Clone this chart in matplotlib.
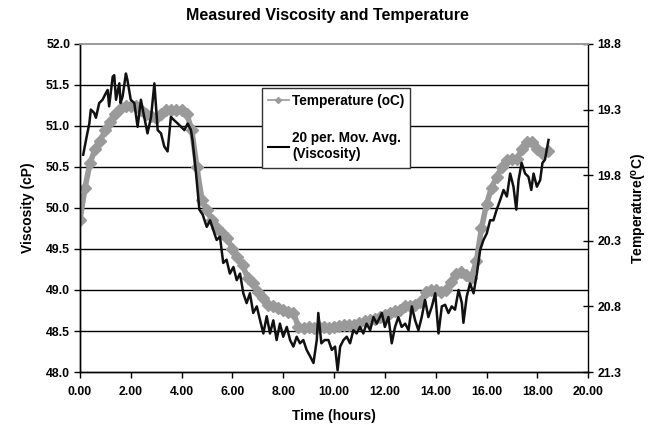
import numpy as np
import matplotlib
matplotlib.use("Agg")
import matplotlib.pyplot as plt
from matplotlib.lines import Line2D

plt.rcParams['font.family'] = ['Liberation Sans', 'DejaVu Sans']
plt.rcParams['font.weight'] = 'bold'
plt.rcParams['mathtext.default'] = 'regular'

# Temperature (oC), sampled every 0.2 h from 0.0 to 18.4 h
temp_c = [
    20.144, 19.894, 19.706, 19.600, 19.538, 19.456, 19.394, 19.331, 19.288, 19.269,
    19.269, 19.275, 19.300, 19.331, 19.350, 19.363, 19.331, 19.300, 19.300, 19.300,
    19.300, 19.331, 19.456, 19.738, 19.988, 20.069, 20.144, 20.206, 20.238, 20.281,
    20.363, 20.425, 20.488, 20.581, 20.625, 20.694, 20.738, 20.788, 20.800, 20.813,
    20.831, 20.844, 20.850, 20.956, 20.963, 20.956, 20.963, 20.956, 20.956, 20.963,
    20.956, 20.950, 20.944, 20.944, 20.938, 20.925, 20.913, 20.900, 20.894, 20.881,
    20.863, 20.850, 20.838, 20.825, 20.800, 20.800, 20.788, 20.769, 20.688, 20.675,
    20.675, 20.688, 20.675, 20.613, 20.550, 20.538, 20.563, 20.581, 20.456, 20.206,
    20.019, 19.894, 19.813, 19.738, 19.688, 19.675, 19.675, 19.600, 19.550, 19.550,
    19.600, 19.631, 19.613,
]
temp_t = np.round(np.arange(len(temp_c)) * 0.2, 1)

# 20 per. moving average of viscosity (cP)
visc_t = [
    0.13, 0.24, 0.37, 0.43, 0.56, 0.63, 0.76, 0.89, 1.02, 1.09,
    1.15, 1.29, 1.35, 1.42, 1.55, 1.60, 1.68, 1.81, 1.87, 2.00,
    2.14, 2.27, 2.40, 2.53, 2.66, 2.80, 2.93, 3.06, 3.19, 3.32,
    3.45, 3.58, 3.71, 3.85, 3.98, 4.11, 4.24, 4.37, 4.43, 4.57,
    4.70, 4.83, 4.99, 5.12, 5.25, 5.38, 5.51, 5.64, 5.77, 5.90,
    6.04, 6.17, 6.30, 6.43, 6.56, 6.69, 6.82, 6.96, 7.09, 7.22,
    7.35, 7.48, 7.61, 7.74, 7.87, 8.00, 8.14, 8.27, 8.40, 8.53,
    8.66, 8.79, 8.92, 9.06, 9.19, 9.32, 9.38, 9.50, 9.63, 9.78,
    9.91, 10.04, 10.14, 10.24, 10.37, 10.50, 10.63, 10.76, 10.89, 11.02,
    11.15, 11.28, 11.42, 11.55, 11.68, 11.88, 12.00, 12.14, 12.27, 12.40,
    12.53, 12.66, 12.80, 12.93, 13.06, 13.19, 13.32, 13.45, 13.58, 13.71,
    13.85, 13.98, 14.11, 14.24, 14.37, 14.50, 14.63, 14.76, 14.90, 15.03,
    15.09, 15.22, 15.35, 15.49, 15.62, 15.75, 15.88, 16.01, 16.14, 16.27,
    16.40, 16.54, 16.67, 16.80, 16.93, 17.06, 17.17, 17.26, 17.38, 17.52,
    17.65, 17.76, 17.85, 17.98, 18.11, 18.20, 18.30, 18.37, 18.44,
]
visc_cp = [
    50.65, 50.83, 51.03, 51.20, 51.16, 51.10, 51.28, 51.32, 51.40, 51.44,
    51.24, 51.60, 51.62, 51.32, 51.52, 51.28, 51.36, 51.64, 51.56, 51.32,
    51.28, 50.99, 51.32, 51.11, 50.91, 51.11, 51.52, 50.95, 50.91, 50.75,
    50.69, 51.11, 51.07, 51.03, 50.99, 50.95, 51.03, 50.95, 50.83, 50.42,
    49.98, 49.92, 49.77, 49.85, 49.73, 49.61, 49.65, 49.33, 49.37, 49.20,
    49.28, 49.12, 49.20, 48.96, 48.84, 48.96, 48.72, 48.80, 48.63, 48.47,
    48.68, 48.47, 48.63, 48.39, 48.59, 48.43, 48.55, 48.39, 48.31, 48.43,
    48.35, 48.39, 48.27, 48.19, 48.11, 48.39, 48.72, 48.35, 48.39, 48.39,
    48.27, 48.31, 48.02, 48.31, 48.39, 48.43, 48.35, 48.51, 48.47, 48.55,
    48.47, 48.59, 48.51, 48.67, 48.59, 48.72, 48.55, 48.67, 48.35, 48.55,
    48.67, 48.55, 48.59, 48.51, 48.80, 48.63, 48.51, 48.67, 48.88, 48.67,
    48.80, 48.96, 48.47, 48.80, 48.82, 48.72, 48.80, 48.76, 49.00, 48.84,
    48.60, 48.92, 49.08, 48.96, 49.20, 49.49, 49.61, 49.69, 49.85, 49.85,
    49.98, 50.10, 50.22, 50.14, 50.42, 50.26, 49.98, 50.34, 50.55, 50.42,
    50.38, 50.22, 50.42, 50.26, 50.34, 50.55, 50.59, 50.71, 50.83,
]

x_ticks = [0, 2, 4, 6, 8, 10, 12, 14, 16, 18, 20]
visc_ticks = [48.0, 48.5, 49.0, 49.5, 50.0, 50.5, 51.0, 51.5, 52.0]
temp_ticks = [18.8, 19.3, 19.8, 20.3, 20.8, 21.3]

fig = plt.figure(figsize=(6.55, 4.25), dpi=100)
ax = fig.add_axes([0.122, 0.1247, 0.776, 0.7718])
ax2 = ax.twinx()

gray = '#9a9a9a'
ax2.plot(temp_t, temp_c, color=gray, lw=4.0, marker='D', markersize=6.0,
         markerfacecolor=gray, markeredgecolor=gray, zorder=2,
         solid_joinstyle='round', solid_capstyle='round')
ax.plot(visc_t, visc_cp, color='#111111', lw=1.8, zorder=3)

ax.set_zorder(ax2.get_zorder() + 1)
ax.patch.set_visible(False)

ax.set_xlim(0, 20)
ax.set_ylim(48.0, 52.0)
ax2.set_ylim(21.3, 18.8)

ax.set_xticks(x_ticks)
ax.set_xticklabels([f'{v:.2f}' for v in x_ticks])
ax.set_yticks(visc_ticks)
ax.set_yticklabels([f'{v:.1f}' for v in visc_ticks])
ax2.set_yticks(temp_ticks)
ax2.set_yticklabels([f'{v:.1f}' for v in temp_ticks])

for v in visc_ticks[1:-1]:
    ax2.axhline(21.3 - (v - 48.0) * 0.625, color='black', lw=1.0, zorder=0)

ax.tick_params(axis='both', labelsize=8.8, direction='out', length=4, width=1)
ax.tick_params(axis='y', pad=3)
ax.tick_params(axis='x', pad=6)
ax2.tick_params(axis='y', labelsize=8.8, direction='inout', length=7, width=1, pad=3)

for a in (ax, ax2):
    a.spines['top'].set_color('#999999')
    a.spines['top'].set_linewidth(1.2)
    a.spines['left'].set_linewidth(1.0)
    a.spines['bottom'].set_linewidth(1.0)
    a.spines['right'].set_linewidth(1.0)
ax.spines['right'].set_visible(False)

ax.set_xlabel('Time (hours)', fontsize=10, fontweight='bold', labelpad=8)
ax.set_ylabel('Viscosity (cP)', fontsize=10, fontweight='bold', labelpad=8)
ax2.set_ylabel(r'Temperature($^{o}$C)', fontsize=10, fontweight='bold', labelpad=6)
fig.suptitle('Measured Viscosity and Temperature', fontsize=11.5, fontweight='bold', y=0.982)

handles = [
    Line2D([], [], color=gray, lw=1.2, marker='D', markersize=3,
           markerfacecolor=gray, markeredgecolor=gray),
    Line2D([], [], color='black', lw=1.5),
]
labels = ['Temperature (oC)', '20 per. Mov. Avg.\n(Viscosity)']
leg = ax.legend(handles, labels, loc='upper left', bbox_to_anchor=(0.40, 0.793),
                bbox_transform=fig.transFigure, fontsize=9.8, frameon=True,
                fancybox=False, edgecolor='#333333', framealpha=1,
                handlelength=1.5, handletextpad=0.25, labelspacing=1.7,
                borderpad=0.45, borderaxespad=0.0)
leg.get_frame().set_linewidth(1.0)
for t in leg.get_texts():
    t.set_fontweight('bold')

fig.savefig('out.png', dpi=100)
